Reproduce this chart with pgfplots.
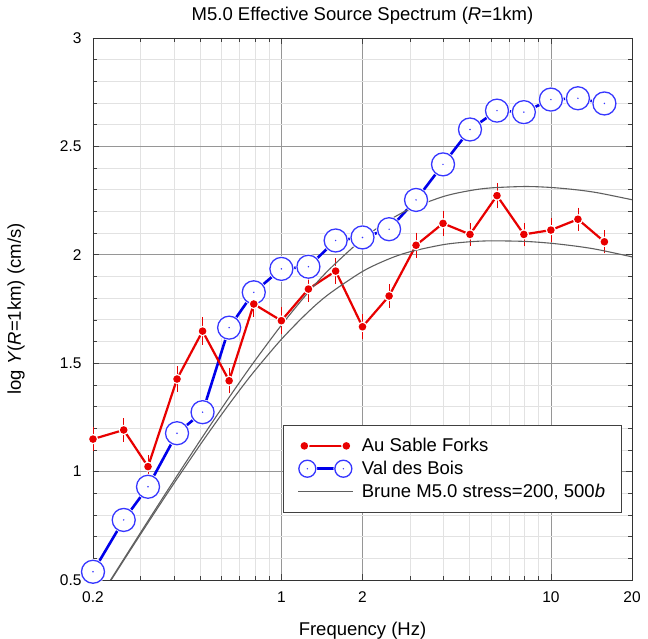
\documentclass[border=0pt]{standalone}
\usepackage{fontspec}
\setmainfont{Liberation Sans}
\usepackage{pgfplots}
\usepackage{pgfplotstable}
\pgfplotsset{compat=1.18}
\definecolor{majgrid}{RGB}{150,150,150}
\definecolor{mingrid}{RGB}{226,226,226}
\definecolor{myred}{RGB}{232,0,0}
\definecolor{myblue}{RGB}{0,0,235}
\definecolor{circblue}{RGB}{55,55,255}
\definecolor{brune}{RGB}{95,95,95}
\newcommand{\fs}{\fontsize{18.5bp}{22bp}\selectfont}
\newcommand{\fst}{\fontsize{15.5bp}{18bp}\selectfont}
\pgfdeclareplotmark{redhalo}{%
  \pgfpathcircle{\pgfpointorigin}{\dimexpr\pgfplotmarksize+1.4bp\relax}%
  \pgfsetfillcolor{white}\pgfusepathqfill
  \pgfpathcircle{\pgfpointorigin}{\pgfplotmarksize}%
  \pgfsetfillcolor{myred}\pgfusepathqfill}
\pgfdeclareplotmark{bluecirc}{%
  \pgfpathcircle{\pgfpointorigin}{\dimexpr\pgfplotmarksize+1.4bp\relax}%
  \pgfsetfillcolor{white}\pgfusepathqfill
  \pgfpathcircle{\pgfpointorigin}{\pgfplotmarksize}%
  \pgfsetstrokecolor{circblue}\pgfsetlinewidth{1.3bp}\pgfusepathqstroke
  \pgfpathcircle{\pgfpointorigin}{0.8bp}%
  \pgfsetfillcolor{circblue}\pgfusepathqfill}
\pgfplotsset{
  bluelegend/.style={legend image code/.code={\draw[##1] plot coordinates {(3bp,0bp) (39bp,0bp)};}},
  brunelegend/.style={legend image code/.code={\draw[##1] (-6bp,0bp) -- (49bp,0bp);}},
}
\pgfplotstableread{
f y e
0.2 1.150 0.035
0.26 1.192 0.035
0.32 1.023 0.035
0.41 1.427 0.04
0.51 1.648 0.045
0.64 1.419 0.04
0.79 1.773 0.04
1.0 1.696 0.045
1.26 1.842 0.04
1.59 1.925 0.04
2.0 1.668 0.04
2.51 1.81 0.035
3.16 2.044 0.04
3.98 2.145 0.04
5.01 2.094 0.035
6.31 2.273 0.04
7.94 2.094 0.035
10.0 2.114 0.035
12.6 2.164 0.035
15.8 2.06 0.035
}\redtab
\pgfplotstableread{
f y
0.2 0.538
0.26 0.777
0.32 0.930
0.41 1.177
0.51 1.274
0.64 1.664
0.79 1.827
1.0 1.935
1.26 1.945
1.59 2.066
2.0 2.080
2.51 2.118
3.16 2.253
3.98 2.417
5.01 2.578
6.31 2.665
7.94 2.658
10.0 2.716
12.6 2.722
15.8 2.698
}\bluetab
\pgfplotstableread{
f up lo
0.2 0.3716 0.3681
0.25 0.5627 0.5574
0.3 0.7179 0.7103
0.35 0.8482 0.8380
0.4 0.9601 0.9469
0.5 1.1443 1.1243
0.6 1.2914 1.2634
0.7 1.4124 1.3758
0.8 1.5140 1.4681
1.0 1.6753 1.6101
1.25 1.8228 1.7334
1.5 1.9305 1.8185
2.0 2.0726 1.9231
2.5 2.1577 1.9804
3.0 2.2111 2.0139
4.0 2.2692 2.0471
5.0 2.2960 2.0601
6.0 2.3086 2.0643
8.0 2.3149 2.0618
10.0 2.3106 2.0532
12.5 2.2995 2.0392
15.0 2.2855 2.0236
20.0 2.2540 1.9905
}\brunetab
\begin{document}
\begin{tikzpicture}
\begin{axis}[
  at={(0,0)}, anchor=south west,
  scale only axis, width=539bp, height=542bp,
  xmode=log, log basis x=10,
  xmin=0.2, xmax=20, ymin=0.5, ymax=3,
  xtick={0.2,1,2,10,20},
  xticklabels={\textrm{0.2},\textrm{1},\textrm{2},\textrm{10},\textrm{20}},
  minor xtick={0.3,0.4,0.5,0.6,0.7,0.8,0.9,3,4,5,6,7,8,9},
  ytick={0.5,1,1.5,2,2.5,3},
  yticklabels={\textrm{0.5},\textrm{1},\textrm{1.5},\textrm{2},\textrm{2.5},\textrm{3}},
  minor ytick={0.6,0.7,0.8,0.9,1.1,1.2,1.3,1.4,1.6,1.7,1.8,1.9,2.1,2.2,2.3,2.4,2.6,2.7,2.8,2.9},
  grid=both,
  major grid style={draw=majgrid, line width=0.7bp},
  minor grid style={draw=mingrid, line width=0.7bp},
  tick align=inside,
  major tick length=6bp, minor tick length=4bp,
  every major tick/.append style={draw=black!75, line width=0.7bp},
  every minor tick/.append style={draw=black!75, line width=0.6bp},
  axis line style={draw=black!80, line width=0.9bp},
  /pgf/number format/assume math mode=true,
  tick label style={font=\fst},
  yticklabel style={xshift=-8bp},
  xticklabel style={yshift=-8bp},
  xlabel={Frequency (Hz)},
  xlabel style={font=\fs, at={(rel axis cs:0.5,0)}, anchor=base, yshift=-55bp},
  ylabel={log \textit{Y}(\textit{R}=1km) (cm/s)},
  ylabel style={font=\fs, at={(rel axis cs:0,0.5)}, anchor=center, rotate=0, yshift=77bp},
  title={M5.0 Effective Source Spectrum (\textit{R}=1km)},
  title style={font=\fs, at={(rel axis cs:0.5,1)}, anchor=base, yshift=11.5bp},
  legend style={at={(rel axis cs:0.3525,0.286)}, anchor=north west, draw=black!75, line width=0.9bp, font=\fs, inner xsep=14bp, inner ysep=11bp, row sep=3.5bp, column sep=6bp, cells={anchor=west}},
  legend image code/.code={\draw[#1] plot coordinates {(0bp,0bp) (42bp,0bp)};},
]
\addplot[forget plot, myblue, line width=2.6bp, mark=bluecirc, mark size=11.5bp] table[x=f, y=y] {\bluetab};
\addplot[forget plot, myred, line width=2.2bp, mark=redhalo, mark size=3.8bp,
  error bars/.cd, y dir=both, y explicit, error mark options={myred, line width=0.6bp, mark size=4bp}, error bar style={myred, line width=0.6bp}]
  table[x=f, y=y, y error=e] {\redtab};
\addplot[forget plot, brune, line width=1.1bp, smooth] table[x=f, y=up] {\brunetab};
\addplot[forget plot, brune, line width=1.1bp, smooth] table[x=f, y=lo] {\brunetab};
\addlegendimage{myred, line width=2.2bp, mark=redhalo, mark size=3.8bp}
\addlegendentry{Au Sable Forks}
\addlegendimage{myblue, line width=2.6bp, mark=bluecirc, mark size=8.5bp, bluelegend}
\addlegendentry{Val des Bois}
\addlegendimage{brune, line width=1.1bp, brunelegend}
\addlegendentry{Brune M5.0 stress=200, 500\textit{b}}
\end{axis}
\pgfresetboundingbox
\path (-93bp,-59bp) rectangle (555bp,580bp);
\end{tikzpicture}
\end{document}
